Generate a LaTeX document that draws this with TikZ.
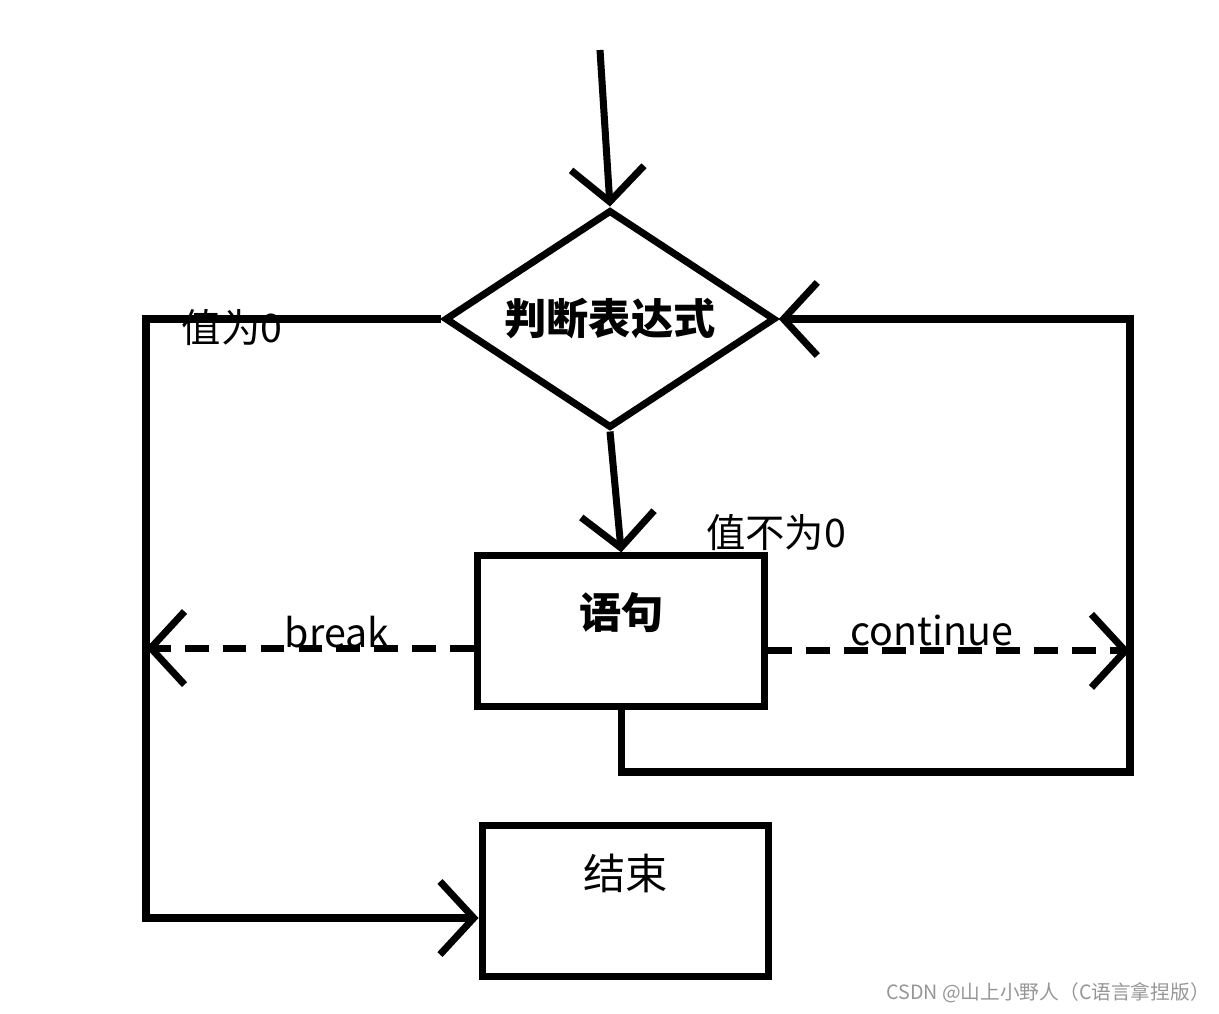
\documentclass[tikz,border=0pt]{standalone}
\usepackage{fontspec}
\setmainfont{Noto Sans CJK SC}
\usepackage{xcolor}
\usepackage{tikz}
\usetikzlibrary{positioning,arrows.meta,shapes.geometric}

\definecolor{markgray}{RGB}{150,150,150}

\begin{document}
\begin{tikzpicture}[
  x=0.025cm, y=-0.025cm,
  box/.style={draw, line width=5pt, minimum width=204pt, minimum height=107pt,
    inner sep=0pt, font=\fontsize{30}{30}\selectfont},
  dec/.style={draw, diamond, aspect=1.51, line width=5pt, minimum width=235pt,
    minimum height=155pt, inner sep=0pt, font=\bfseries\fontsize{30}{30}\selectfont},
  lab/.style={font=\fontsize{28}{28}\selectfont, inner sep=0pt},
  flow/.style={line width=5pt},
  dashflow/.style={flow, dash pattern=on 17pt off 10pt},
  hand/.style={-{Straight Barb[length=24pt,width=52pt]}},
  node distance=86pt
]
\useasboundingbox (0,0) rectangle (1219,1014);

\node[dec] (cond) at (610,319) {判断表达式};
\node[box, below=86pt of cond, xshift=8pt, font=\bfseries\fontsize{30}{30}\selectfont,
  text depth=30pt] (stmt) {语句};
\node[box, below=80pt of stmt, xshift=3pt, text depth=42pt] (fin) {结束};

\coordinate (start) at (600,50);
\coordinate (lbot) at (146,918);
\coordinate (rbot) at (1130,772);

% labels
\node[lab] (zero) at (232,328) {值为0};
\node[lab] (nonzero) at (776,533) {值不为0};
\node[lab] (brk) at (337,632) {break};
\node[lab] (cont) at (932,630) {continue};

\draw[flow, hand] (start) -- (cond.north);
\draw[flow, hand] (cond.west) -| (lbot) -- (lbot -| fin.west);
\draw[flow, hand] (cond.south) -- (stmt.north);
\draw[dashflow, hand] ([yshift=-12pt]stmt.west) -- ([yshift=-12pt]stmt.west -| lbot);
\draw[dashflow, hand] ([yshift=-14pt]stmt.east) -- ([yshift=-14pt]stmt.east -| rbot);
\draw[flow, hand] (stmt.south) |- (rbot) -- (rbot |- cond.east) -- (cond.east);

\node[font=\fontsize{14}{14}\selectfont, text=markgray] (mark) at (1048,993)
  {CSDN @山上小野人（C语言拿捏版）};
\end{tikzpicture}
\end{document}
